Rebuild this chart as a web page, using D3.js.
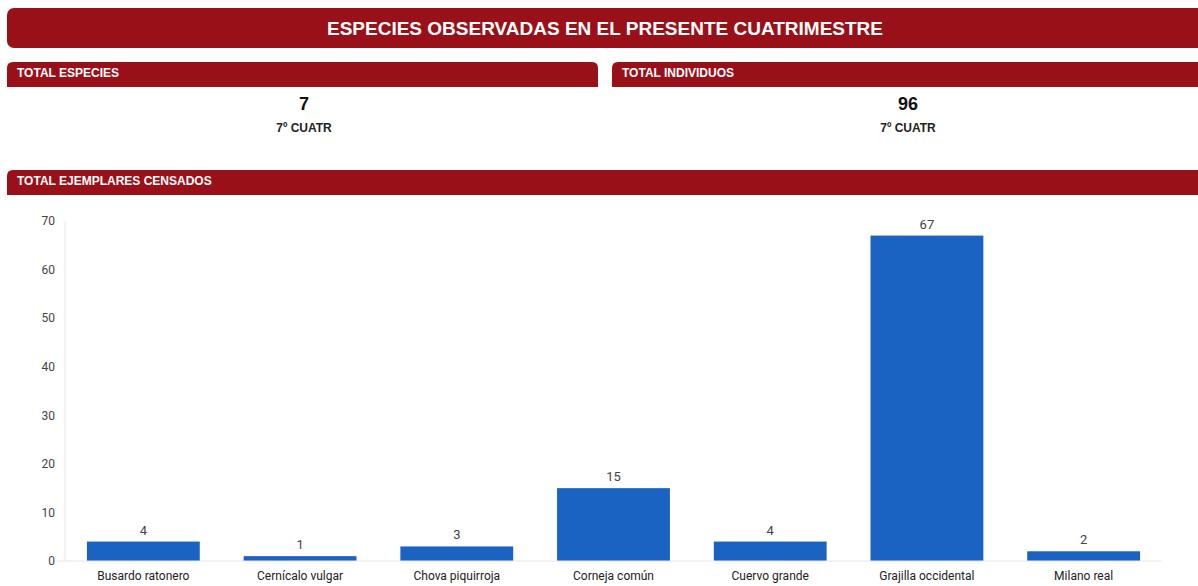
<!DOCTYPE html>
<html lang="es">
<head>
<meta charset="utf-8">
<title>Especies observadas</title>
<script src="https://cdn.jsdelivr.net/npm/d3@7"></script>
<style>
  body { margin: 0; background: #fff; }
  svg { display: block; }
</style>
</head>
<body>
<div id="chart"></div>
<script>
// datos
var categories = ["Busardo ratonero", "Cernícalo vulgar", "Chova piquirroja", "Corneja común",
                  "Cuervo grande", "Grajilla occidental", "Milano real"];
var values = [4, 1, 3, 15, 4, 67, 2];
var yTicks = [0, 10, 20, 30, 40, 50, 60, 70];
var totalEspecies = 7;
var totalIndividuos = 96;
var periodo = "7º CUATR";

var w = 1198, h = 586;
var red = "#9a1018";
var svg = d3.select("#chart").append("svg")
            .attr("width", w)
            .attr("height", h);

// banner del título
svg.append("rect")
   .attr("x", 7).attr("y", 8)
   .attr("width", 1198).attr("height", 40)
   .attr("rx", 7)
   .attr("fill", red);
svg.append("text")
   .attr("x", 605).attr("y", 35)
   .attr("text-anchor", "middle")
   .attr("font-family", "Liberation Sans, Arial, sans-serif")
   .attr("font-weight", "bold")
   .attr("font-size", 19)
   .attr("fill", "#fff")
   .text("ESPECIES OBSERVADAS EN EL PRESENTE CUATRIMESTRE");

// cabeceras de sección (esquinas superiores redondeadas)
function header(x, y, width, label) {
  var r = 6, hh = 25;
  svg.append("path")
     .attr("d", "M" + x + "," + (y + hh) + "V" + (y + r) + "Q" + x + "," + y + " " + (x + r) + "," + y +
                "H" + (x + width - r) + "Q" + (x + width) + "," + y + " " + (x + width) + "," + (y + r) +
                "V" + (y + hh) + "Z")
     .attr("fill", red);
  svg.append("text")
     .attr("x", x + 10).attr("y", y + 15)
     .attr("font-family", "Liberation Sans, Arial, sans-serif")
     .attr("font-weight", "bold")
     .attr("font-size", 12)
     .attr("fill", "#fff")
     .text(label);
}
header(7, 62, 591, "TOTAL ESPECIES");
header(612, 62, 594, "TOTAL INDIVIDUOS");
header(7, 170, 1199, "TOTAL EJEMPLARES CENSADOS");

// tarjetas de totales
function card(cx, value) {
  svg.append("text")
     .attr("x", cx).attr("y", 110)
     .attr("text-anchor", "middle")
     .attr("font-family", "Liberation Sans, Arial, sans-serif")
     .attr("font-weight", "bold")
     .attr("font-size", 18)
     .attr("fill", "#111")
     .text(value);
  svg.append("text")
     .attr("x", cx).attr("y", 132)
     .attr("text-anchor", "middle")
     .attr("font-family", "Liberation Sans, Arial, sans-serif")
     .attr("font-weight", "bold")
     .attr("font-size", 12)
     .attr("fill", "#222")
     .text(periodo);
}
card(304, totalEspecies);
card(908, totalIndividuos);

// gráfico de barras
var plotLeft = 65, plotRight = 1162, plotTop = 221, plotBottom = 561;
var xScale = d3.scaleBand()
               .domain(categories)
               .range([plotLeft, plotRight])
               .paddingInner(0.28)
               .paddingOuter(0.14);
var yScale = d3.scaleLinear()
               .domain([0, 70])
               .range([plotBottom, plotTop]);

var font = "Roboto, Arial, sans-serif";

// eje vertical
svg.append("line")
   .attr("x1", plotLeft).attr("x2", plotLeft)
   .attr("y1", plotTop).attr("y2", plotBottom)
   .attr("stroke", "#e6e6e6");

var yAxis = d3.axisLeft(yScale).tickValues(yTicks).tickSize(0).tickPadding(10);
var gy = svg.append("g")
   .attr("transform", "translate(" + plotLeft + ",0)")
   .call(yAxis);
gy.select(".domain").remove();
gy.selectAll("text")
  .attr("font-family", font)
  .attr("font-size", 12)
  .attr("fill", "#444");

svg.selectAll("rect.bar")
   .data(values)
   .enter()
   .append("rect")
   .attr("class", "bar")
   .attr("x", function(d, i) { return xScale(categories[i]); })
   .attr("y", function(d) { return yScale(d); })
   .attr("width", xScale.bandwidth())
   .attr("height", function(d) { return yScale(0) - yScale(d); })
   .attr("fill", "#1a63c2");

svg.selectAll("text.val")
   .data(values)
   .enter()
   .append("text")
   .attr("class", "val")
   .attr("x", function(d, i) { return xScale(categories[i]) + xScale.bandwidth() / 2; })
   .attr("y", function(d) { return yScale(d) - 7; })
   .attr("text-anchor", "middle")
   .attr("font-family", font)
   .attr("font-size", 13)
   .attr("fill", "#444")
   .text(function(d) { return d; });

// eje horizontal
var xAxis = d3.axisBottom(xScale).tickSize(0).tickPadding(10);
var gx = svg.append("g")
   .attr("transform", "translate(0," + plotBottom + ")")
   .call(xAxis);
gx.select(".domain")
  .attr("stroke", "#e6e6e6")
  .attr("d", "M" + (plotLeft - 8) + ",0H" + plotRight);
gx.selectAll("text")
  .attr("font-family", font)
  .attr("font-size", 12)
  .attr("fill", "#222");
</script>
</body>
</html>
